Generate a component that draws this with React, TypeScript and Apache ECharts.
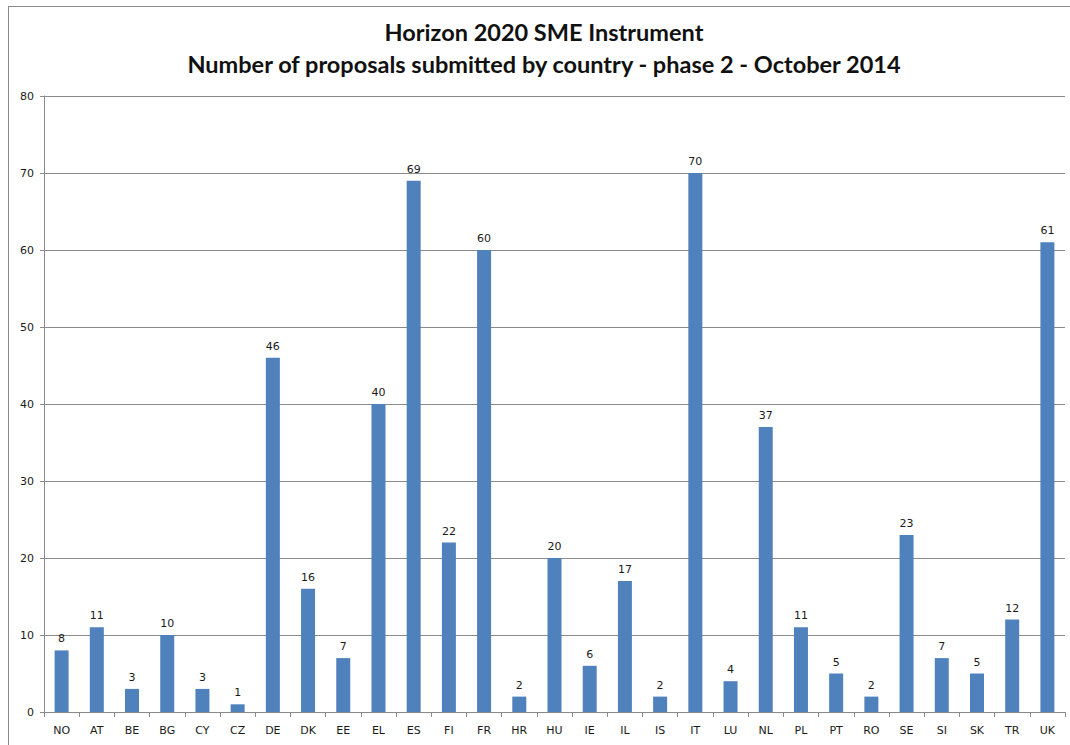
import React, { useEffect, useRef } from "react";
import * as echarts from "echarts";

const countries = ["NO","AT","BE","BG","CY","CZ","DE","DK","EE","EL","ES","FI","FR","HR","HU","IE","IL","IS","IT","LU","NL","PL","PT","RO","SE","SI","SK","TR","UK"];
const proposals = [8,11,3,10,3,1,46,16,7,40,69,22,60,2,20,6,17,2,70,4,37,11,5,2,23,7,5,12,61];
const titleLines = ["Horizon 2020 SME Instrument", "Number of proposals submitted by country - phase 2 - October 2014"];
const yMin = 0;
const yMax = 80;
const yStep = 10;

export default function App() {
  const ref = useRef<HTMLDivElement>(null);
  useEffect(() => {
    document.body.style.margin = "0";
    const chart = echarts.init(ref.current!, null, { renderer: "svg" });
    chart.setOption({
      animation: false,
      backgroundColor: "#ffffff",
      title: {
        text: titleLines.join("\n"),
        left: 544,
        textAlign: "center",
        top: 16,
        padding: 0,
        textStyle: {
          fontFamily: "Lato",
          fontWeight: "bold",
          fontSize: 23.5,
          lineHeight: 32,
          color: "#111111",
        },
      },
      graphic: [
        { type: "line", shape: { x1: 8.5, y1: 6, x2: 8.5, y2: 745 }, style: { stroke: "#8a8a8a", lineWidth: 1 } },
        { type: "line", shape: { x1: 8, y1: 6.5, x2: 1070, y2: 6.5 }, style: { stroke: "#8a8a8a", lineWidth: 1 } },
      ],
      grid: { left: 44, right: 5, top: 96, bottom: 33, containLabel: false },
      xAxis: {
        type: "category",
        data: countries,
        boundaryGap: true,
        axisLine: { lineStyle: { color: "#8a8a8a", width: 1 } },
        axisTick: { show: true, alignWithLabel: false, length: 5, lineStyle: { color: "#8a8a8a" } },
        axisLabel: { interval: 0, fontFamily: "DejaVu Sans", fontSize: 11, color: "#1a1a1a", margin: 13 },
      },
      yAxis: {
        type: "value",
        min: yMin,
        max: yMax,
        interval: yStep,
        axisLine: { show: true, lineStyle: { color: "#8a8a8a", width: 1 } },
        axisTick: { show: true, length: 4, lineStyle: { color: "#8a8a8a" } },
        axisLabel: { fontFamily: "DejaVu Sans", fontSize: 11, color: "#1a1a1a", margin: 10 },
        splitLine: { show: true, lineStyle: { color: "#8a8a8a", width: 1 } },
      },
      series: [
        {
          type: "bar",
          data: proposals,
          barWidth: 14,
          itemStyle: { color: "#4F81BD" },
          label: {
            show: true,
            position: "top",
            distance: 6,
            fontFamily: "DejaVu Sans",
            fontSize: 11,
            color: "#1a1a1a",
          },
        },
      ],
    });
    return () => chart.dispose();
  }, []);
  return <div ref={ref} style={{ position: "fixed", left: 0, top: 0, width: 1070, height: 745 }} />;
}
